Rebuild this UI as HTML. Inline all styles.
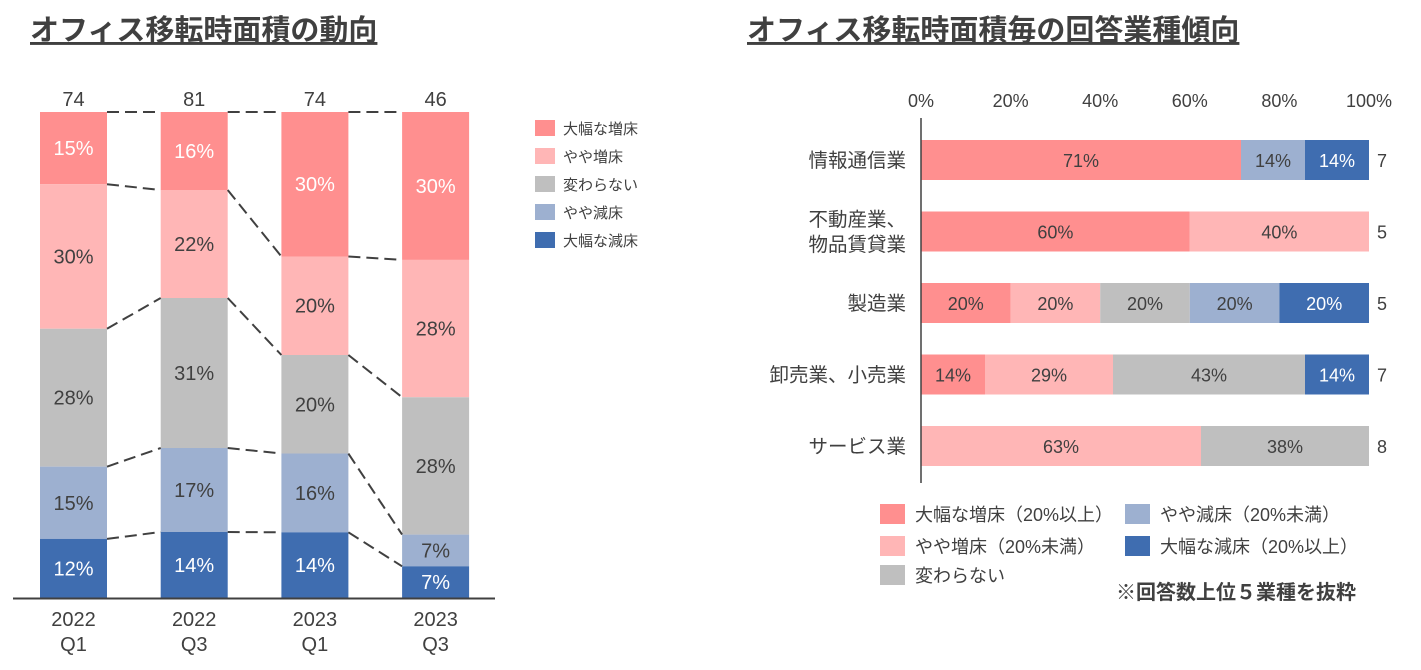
<!DOCTYPE html>
<html><head><meta charset="utf-8"><style>
html,body{margin:0;padding:0;background:#fff;}
svg{display:block;font-family:"Liberation Sans","Noto Sans CJK JP",sans-serif;}
</style></head><body>
<svg id="c" width="1421" height="670" viewBox="0 0 1421 670">
<text x="30" y="40" font-size="29" font-weight="bold" fill="#404040" text-decoration="underline">オフィス移転時面積の動向</text>
<text x="747" y="40" font-size="29" font-weight="bold" fill="#404040" text-decoration="underline">オフィス移転時面積毎の回答業種傾向</text>
<g id="left"></g><g id="right"></g>
</svg>
<script>
const colors=["#FF8F8F","#FFB6B6","#BFBFBF","#9DB0D0","#3F6DB0"];
const txtCol=["#fff","#404040","#404040","#404040","#fff"];
const seriesNames=["大幅な増床","やや増床","変わらない","やや減床","大幅な減床"];
const periods=[["2022","Q1"],["2022","Q3"],["2023","Q1"],["2023","Q3"]];
const big_inc=[11,13,22,14];
const small_inc=[22,18,15,13];
const same=[21,25,15,13];
const small_dec=[11,14,12,3];
const big_dec=[9,11,10,3];
const leftSeries=[big_inc,small_inc,same,small_dec,big_dec];

const industries=[["情報通信業"],["不動産業、","物品賃貸業"],["製造業"],["卸売業、小売業"],["サービス業"]];
const cnt_big_inc=[5,3,1,1,0];
const cnt_small_inc=[0,2,1,2,5];
const cnt_same=[0,0,1,3,3];
const cnt_small_dec=[1,0,1,0,0];
const cnt_big_dec=[1,0,1,1,0];
const respondents=[7,5,5,7,8];
const rightSeries=[cnt_big_inc,cnt_small_inc,cnt_same,cnt_small_dec,cnt_big_dec];
const xTicks=[0,20,40,60,80,100];
const legendRight=["大幅な増床（20%以上）","やや増床（20%未満）","変わらない","やや減床（20%未満）","大幅な減床（20%以上）"];

const NS="http://www.w3.org/2000/svg";
function mk(parent,tag,attrs,text){const e=document.createElementNS(NS,tag);for(const k in attrs)e.setAttribute(k,attrs[k]);if(text!==undefined)e.textContent=text;parent.appendChild(e);return e;}

// LEFT chart
const L=document.getElementById('left');
const top0=112,bot0=598,bw=67;
const barX=i=>40+i*120.7;
const yL=p=>top0+(bot0-top0)*p/100;
const bounds=[];
periods.forEach((p,i)=>{
  let total=0;leftSeries.forEach(s=>total+=s[i]);
  let acc=0;const b=[0];
  leftSeries.forEach((s,k)=>{
    const pct=s[i]/total*100;
    const y0=yL(acc),y1=yL(acc+pct);
    const r=mk(L,'rect',{x:barX(i),y:y0,width:bw,height:y1-y0,fill:colors[k]});
    
    
    const t=mk(L,'text',{x:barX(i)+bw/2,y:(y0+y1)/2+7,'font-size':20,'text-anchor':'middle',fill:txtCol[k]},Math.round(pct)+'%');
    
    
    acc+=pct;b.push(acc);
  });
  bounds.push(b);
  const tt=mk(L,'text',{x:barX(i)+bw/2,y:106,'font-size':20,'text-anchor':'middle',fill:'#404040'},total);
  
  
  const c1=mk(L,'text',{x:barX(i)+bw/2,y:626,'font-size':20,'text-anchor':'middle',fill:'#404040'},p[0]);
  
  
  const c2=mk(L,'text',{x:barX(i)+bw/2,y:651,'font-size':20,'text-anchor':'middle',fill:'#404040'},p[1]);
  
  
});
for(let i=0;i<periods.length-1;i++){
  for(let k=0;k<5;k++){
    const ln=mk(L,'line',{x1:barX(i)+bw,y1:yL(bounds[i][k]),x2:barX(i+1),y2:yL(bounds[i+1][k]),stroke:'#404040','stroke-width':2,'stroke-dasharray':'12,6'});
    
    
  }
}
const ax=mk(L,'line',{x1:13,y1:598.5,x2:495,y2:598.5,stroke:'#404040','stroke-width':2});


seriesNames.forEach((n,k)=>{
  const r=mk(L,'rect',{x:535,y:120+k*28,width:20,height:16,fill:colors[k]});
  
  
  const t=mk(L,'text',{x:563,y:134+k*28,'font-size':15,fill:'#404040'},n);
  
  
});

// RIGHT chart
const R=document.getElementById('right');
const x0=921,x1=1369;
const xR=p=>x0+(x1-x0)*p/100;
const rowY=i=>160+i*71.5;
xTicks.forEach(t=>{
  const e=mk(R,'text',{x:xR(t),y:107,'font-size':18,'text-anchor':'middle',fill:'#404040'},t+'%');
  
  
});
industries.forEach((ind,i)=>{
  const n=respondents[i];let acc=0;
  rightSeries.forEach((s,k)=>{
    if(!s[i])return;
    const p=s[i]/n*100;
    const r=mk(R,'rect',{x:xR(acc),y:rowY(i)-20,width:xR(acc+p)-xR(acc),height:40,fill:colors[k]});
    
    
    const t=mk(R,'text',{x:(xR(acc)+xR(acc+p))/2,y:rowY(i)+7,'font-size':18,'text-anchor':'middle',fill:k==4?'#fff':'#404040'},Math.round(p+1e-9)+'%');
    
    
    acc+=p;
  });
  const nt=mk(R,'text',{x:1377,y:rowY(i)+7,'font-size':18,fill:'#404040'},n);
  
  
  ind.forEach((line,j)=>{
    const y=rowY(i)+7+(j-(ind.length-1)/2)*25;
    const e=mk(R,'text',{x:906,y:y,'font-size':19.5,'text-anchor':'end',fill:'#404040'},line);
    
    
  });
});
const va=mk(R,'line',{x1:921,y1:118,x2:921,y2:483,stroke:'#404040','stroke-width':1.5});


const lpos=[[880,504],[880,536],[880,565],[1125,504],[1125,536]];
legendRight.forEach((n,k)=>{
  const r=mk(R,'rect',{x:lpos[k][0],y:lpos[k][1],width:25,height:20,fill:colors[k]});
  
  
  const t=mk(R,'text',{x:lpos[k][0]+35,y:lpos[k][1]+17,'font-size':18,fill:'#404040'},n);
  
  
});
const note=mk(R,'text',{x:1116,y:599,'font-size':20,'font-weight':'bold',fill:'#404040'},'※回答数上位５業種を抜粋');


</script>
</body></html>
